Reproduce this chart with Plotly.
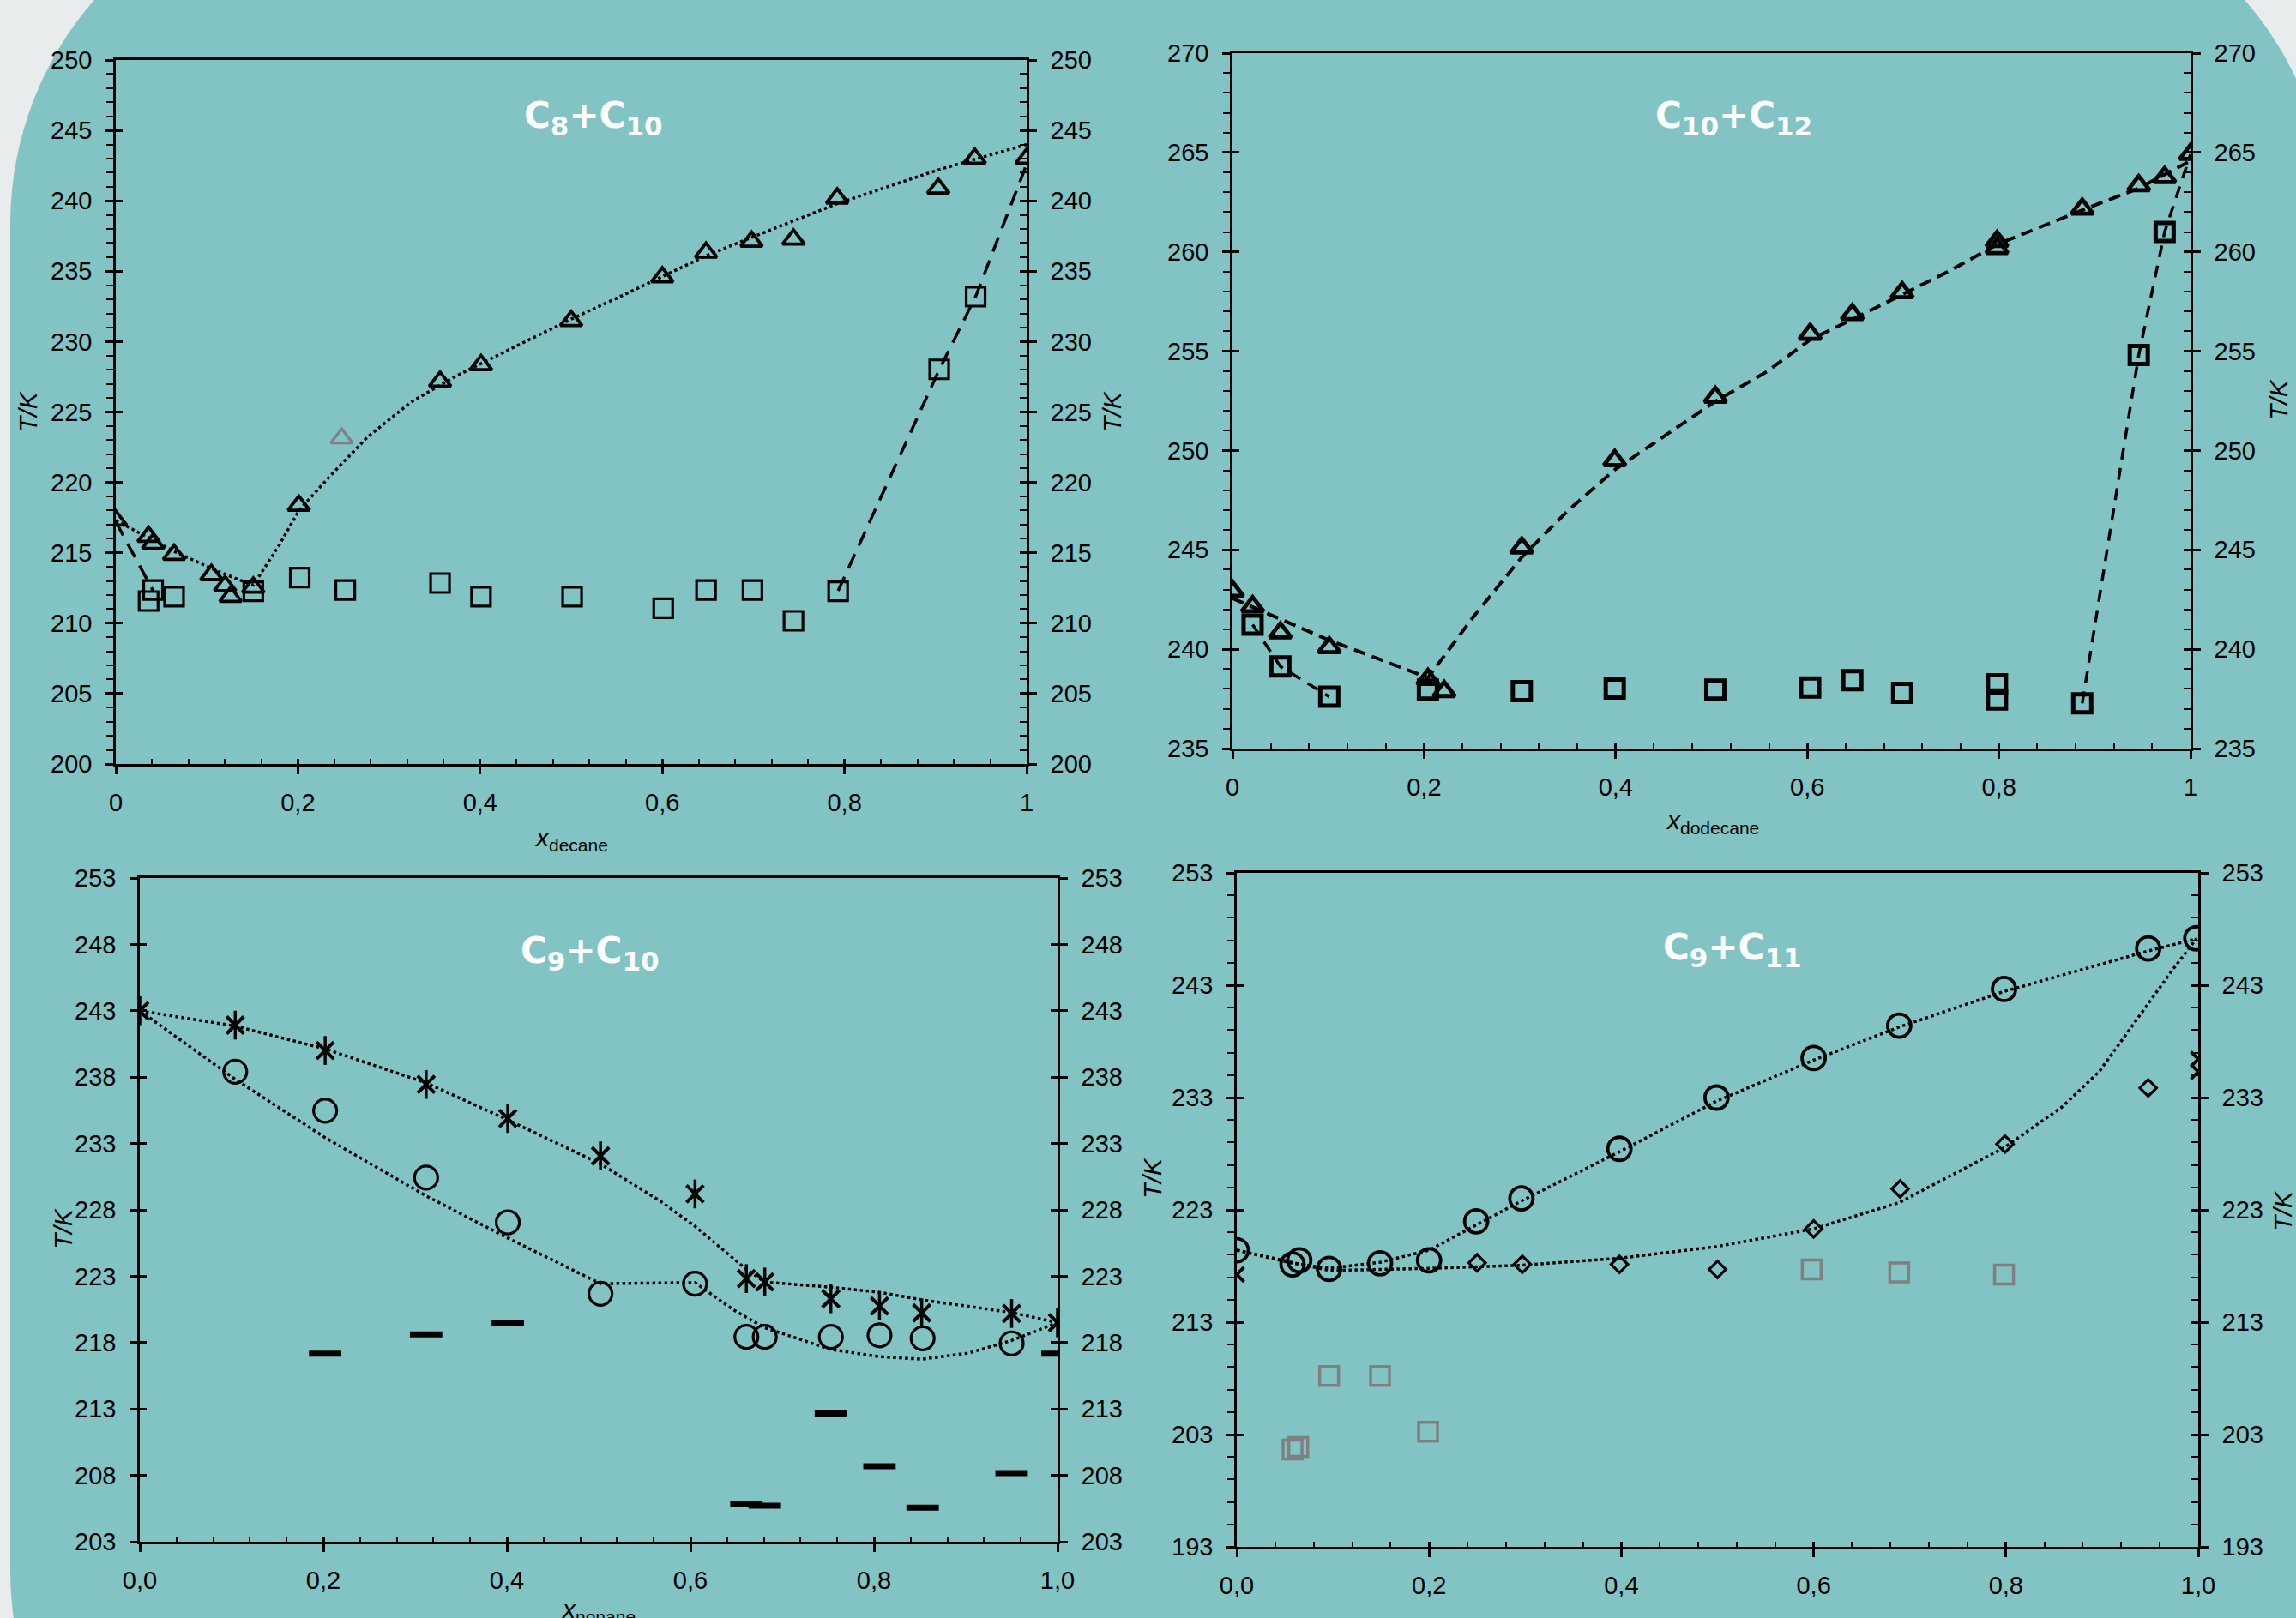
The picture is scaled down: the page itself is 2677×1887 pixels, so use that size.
import plotly.graph_objects as go

W, H = 2677, 1887
TEAL = "#82C3C4"
GRAYBG = "#E8ECEC"
GRAYMK = "#808080"
FONT = "Liberation Sans, Arial, sans-serif"
TFONT = "DejaVu Sans, sans-serif"

# ---------------- Panel 1: C8 + C10 (x_decane) ----------------
p1_liq_x = [0.0, 0.036, 0.041, 0.064, 0.105, 0.120, 0.126, 0.151, 0.201, 0.356, 0.401,
            0.500, 0.600, 0.648, 0.698, 0.744, 0.792, 0.903, 0.943, 1.0]
p1_liq_T = [217.3, 216.15, 215.65, 214.87, 213.43, 212.65, 211.88, 212.54, 218.36, 227.17, 228.34,
            231.48, 234.59, 236.34, 237.11, 237.27, 240.18, 240.88, 243.01, 243.01]
p1_out_x = [0.248]
p1_out_T = [223.14]
p1_sol_x = [0.036, 0.041, 0.064, 0.151, 0.202, 0.252, 0.356, 0.401, 0.501, 0.601, 0.648,
            0.699, 0.744, 0.793, 0.904, 0.944]
p1_sol_T = [211.57, 212.35, 211.88, 212.27, 213.24, 212.35, 212.85, 211.88, 211.88, 211.06, 212.35,
            212.35, 210.17, 212.27, 228.03, 233.19]
p1_fit_x = [0.0, 0.064, 0.115, 0.151, 0.179, 0.201, 0.236, 0.276, 0.324, 0.372, 0.437, 0.5,
            0.557, 0.6, 0.648, 0.698, 0.792, 0.903, 1.0]
p1_fit_T = [217.3, 215.1, 213.6, 212.7, 215.5, 218.0, 220.5, 223.2, 225.7, 227.5, 229.6, 231.6,
            233.3, 234.6, 236.1, 237.4, 239.8, 242.2, 244.0]
p1_dash_x = [0.0, 0.041, None, 0.793, 0.904, 0.944, 1.0]
p1_dash_T = [217.2, 212.3, None, 212.3, 228.0, 233.2, 242.6]

# ---------------- Panel 2: C10 + C12 (x_dodecane) ----------------
p2_liq_x = [0.0, 0.021, 0.05, 0.101, 0.204, 0.221, 0.302, 0.399, 0.504, 0.603, 0.647, 0.699,
            0.798, 0.798, 0.887, 0.946, 0.973, 1.0]
p2_liq_T = [242.92, 242.15, 240.83, 240.09, 238.49, 237.88, 245.1, 249.5, 252.69, 255.86, 256.85,
            257.95, 260.53, 260.18, 262.16, 263.34, 263.75, 264.91]
p2_sol_x = [0.021, 0.05, 0.101, 0.204, 0.302, 0.399, 0.504, 0.603, 0.647, 0.699, 0.798, 0.798,
            0.887, 0.946, 0.973]
p2_sol_T = [241.24, 239.13, 237.61, 237.97, 237.89, 238.02, 237.97, 238.08, 238.44, 237.8, 238.24,
            237.47, 237.28, 254.81, 261.0]
p2_fit_x = [0.0, 0.101, 0.204, 0.251, 0.302, 0.35, 0.399, 0.45, 0.504, 0.558, 0.603, 0.647,
            0.699, 0.75, 0.798, 0.887, 0.946, 1.0]
p2_fit_T = [242.56, 240.45, 238.57, 241.6, 244.63, 246.97, 249.03, 250.68, 252.47, 253.98, 255.58,
            256.6, 257.84, 259.08, 260.37, 262.1, 263.2, 264.58]
p2_dash_x = [0.021, 0.05, 0.101, None, 0.887, 0.946, 0.973, 1.0]
p2_dash_T = [241.24, 239.13, 237.61, None, 237.28, 254.81, 261.0, 264.9]

# ---------------- Panel 3: C9 + C10 (x_nonane) ----------------
p3_star_x = [0.0, 0.104, 0.202, 0.312, 0.401, 0.502, 0.605, 0.661, 0.681, 0.753, 0.806, 0.852,
             0.95, 1.0]
p3_star_T = [243.0, 241.92, 240.01, 237.45, 234.89, 232.07, 229.2, 222.82, 222.56, 221.3, 220.76,
             220.23, 220.19, 219.5]
p3_circ_x = [0.104, 0.202, 0.312, 0.401, 0.502, 0.605, 0.661, 0.681, 0.753, 0.806, 0.853, 0.95]
p3_circ_T = [238.41, 235.47, 230.43, 227.06, 221.68, 222.44, 218.43, 218.43, 218.43, 218.55,
             218.32, 217.94]
p3_bar_x = [0.202, 0.312, 0.401, 0.661, 0.681, 0.753, 0.806, 0.853, 0.95, 1.0]
p3_bar_T = [217.17, 218.62, 219.5, 205.87, 205.71, 212.66, 208.69, 205.56, 208.16, 217.17]
p3_up_x = [0.0, 0.104, 0.202, 0.312, 0.401, 0.502, 0.567, 0.605, 0.661, 0.681, 0.753, 0.806,
           0.852, 0.95, 1.0]
p3_up_T = [243.0, 241.85, 240.13, 237.57, 234.78, 231.46, 228.67, 226.76, 223.51, 222.56, 222.17,
           221.79, 221.22, 220.27, 219.5]
p3_lo_x = [0.0, 0.104, 0.202, 0.312, 0.401, 0.502, 0.605, 0.647, 0.681, 0.753, 0.806, 0.852,
           0.903, 0.95, 1.0]
p3_lo_T = [243.0, 237.84, 233.44, 229.05, 225.88, 222.44, 222.52, 220.46, 219.12, 217.48, 216.94,
           216.75, 217.21, 218.16, 219.5]

# ---------------- Panel 4: C9 + C11 ----------------
p4_circ_x = [0.0, 0.058, 0.065, 0.096, 0.149, 0.2, 0.249, 0.296, 0.398, 0.499, 0.6, 0.689,
             0.798, 0.948, 0.998]
p4_circ_T = [219.41, 218.15, 218.51, 217.74, 218.24, 218.51, 221.98, 224.02, 228.44, 233.0,
             236.52, 239.41, 242.66, 246.27, 247.18]
p4_dia_x = [0.25, 0.297, 0.398, 0.5, 0.6, 0.69, 0.799, 0.948]
p4_dia_T = [218.28, 218.15, 218.15, 217.7, 221.31, 224.87, 228.85, 233.86]
p4_x_x = [0.0, 1.0, 1.0]
p4_x_T = [217.24, 236.43, 235.3]
p4_sq_x = [0.058, 0.064, 0.096, 0.149, 0.199, 0.598, 0.689, 0.798]
p4_sq_T = [201.67, 201.9, 208.21, 208.21, 203.25, 217.7, 217.42, 217.24]
p4_up_x = [0.0, 0.058, 0.096, 0.149, 0.2, 0.249, 0.296, 0.398, 0.499, 0.6, 0.689, 0.798, 0.948, 0.998]
p4_up_T = [219.41, 218.24, 217.79, 218.33, 219.41, 221.67, 223.79, 228.17, 232.68, 236.34,
           239.28, 242.44, 246.05, 247.13]
p4_lo_x = [0.0, 0.096, 0.2, 0.296, 0.398, 0.499, 0.6, 0.689, 0.798, 0.858, 0.897, 0.935, 0.973, 0.998]
p4_lo_T = [219.41, 217.6, 217.79, 218.06, 218.69, 219.73, 221.31, 223.65, 228.53, 232.14, 235.3,
           239.82, 244.33, 247.13]

# ---------------- layout helpers ----------------
panels = [
    dict(px=(135, 1197), py=(70, 891), yr=(200, 250), dt=5, mn=1, fmt=None, lminor=True),
    dict(px=(1437, 2554), py=(62, 873), yr=(235, 270), dt=5, mn=1, fmt=None, lminor=True),
    dict(px=(163, 1233), py=(1024, 1798), yr=(203, 253), dt=5, mn=None, fmt=".1f", lminor=False),
    dict(px=(1442, 2563), py=(1018, 1804), yr=(193, 253), dt=10, mn=2, fmt=".1f", lminor=True),
]

fig = go.Figure()
layout = {}
tickfont = dict(family=FONT, size=29, color="black")
LW = 2.5


def ax_ids(k):
    return 2 * k + 1, 2 * k + 2, 4 * k + 1


def nm(prefix, i):
    return prefix if i == 1 else f"{prefix}{i}"


for k, p in enumerate(panels):
    xi, xj, ya = ax_ids(k)
    xdom = [p["px"][0] / W, p["px"][1] / W]
    ydom = [1 - p["py"][1] / H, 1 - p["py"][0] / H]
    xr = [0, 1]
    yr = list(p["yr"])
    xa = dict(domain=xdom, anchor=nm("y", ya), range=xr, tick0=0, dtick=0.2, ticks="outside",
              ticklen=9, tickwidth=LW, tickcolor="black", showline=True, linewidth=LW,
              linecolor="black", mirror=True, showgrid=False, zeroline=False, tickfont=tickfont,
              ticklabelstandoff=8, automargin=False)
    if p["fmt"]:
        xa["tickformat"] = p["fmt"]
    layout[nm("xaxis", xi)] = xa
    layout[nm("xaxis", xj)] = dict(overlaying=nm("x", xi), anchor=nm("y", ya), range=xr, tick0=0,
                                   dtick=0.2, ticks="inside", ticklen=6, tickwidth=LW,
                                   tickcolor="black", side="bottom", automargin=False,
                                   minor=dict(tick0=0, dtick=0.04, ticks="inside", ticklen=6,
                                              tickwidth=2, tickcolor="black"),
                                   showticklabels=False, showline=False, showgrid=False,
                                   zeroline=False)
    yl = dict(domain=ydom, anchor=nm("x", xi), range=yr, tick0=yr[0], dtick=p["dt"],
              ticks="outside", ticklen=9, tickwidth=LW, tickcolor="black", showline=True,
              linewidth=LW, linecolor="black", showgrid=False, zeroline=False, tickfont=tickfont,
              ticklabelstandoff=10, automargin=False)
    if p["mn"] and p["lminor"]:
        yl["minor"] = dict(tick0=yr[0], dtick=p["mn"], ticks="outside", ticklen=8, tickwidth=2,
                           tickcolor="black")
    layout[nm("yaxis", ya)] = yl
    layout[nm("yaxis", ya + 1)] = dict(overlaying=nm("y", ya), anchor=nm("x", xi), side="right",
                                       range=yr, tick0=yr[0], dtick=p["dt"], ticks="outside",
                                       ticklen=9, tickwidth=LW, tickcolor="black", showline=True,
                                       linewidth=LW, linecolor="black", showgrid=False,
                                       zeroline=False, tickfont=tickfont, ticklabelstandoff=10,
                                       automargin=False)
    layout[nm("yaxis", ya + 2)] = dict(overlaying=nm("y", ya), anchor=nm("x", xi), side="left",
                                       range=yr, tick0=yr[0], dtick=p["dt"], ticks="inside",
                                       ticklen=8, tickwidth=LW, tickcolor="black",
                                       showticklabels=False, showline=False, showgrid=False,
                                       zeroline=False, automargin=False)
    yd = dict(overlaying=nm("y", ya), anchor=nm("x", xi), side="right", range=yr, tick0=yr[0],
              dtick=p["dt"], ticks="inside", ticklen=8, tickwidth=LW, tickcolor="black",
              showticklabels=False, showline=False, showgrid=False, zeroline=False,
              automargin=False)
    if p["mn"]:
        yd["minor"] = dict(tick0=yr[0], dtick=p["mn"], ticks="inside", ticklen=8, tickwidth=2,
                           tickcolor="black")
    layout[nm("yaxis", ya + 3)] = yd
    for (xx, yy) in [(xj, ya), (xi, ya + 1), (xi, ya + 2), (xi, ya + 3)]:
        fig.add_trace(go.Scatter(x=[None], y=[None], xaxis=nm("x", xx), yaxis=nm("y", yy),
                                 mode="markers", showlegend=False, hoverinfo="skip"))


def axes(k):
    xi, xj, ya = ax_ids(k)
    return dict(xaxis=nm("x", xi), yaxis=nm("y", ya))


def line(k, x, y, dash, width=3.5):
    fig.add_trace(go.Scatter(x=x, y=y, mode="lines", line=dict(color="black", width=width, dash=dash),
                             showlegend=False, hoverinfo="skip", connectgaps=False, **axes(k)))


def mark(k, x, y, symbol, size, lw, color="black"):
    fig.add_trace(go.Scatter(x=x, y=y, mode="markers",
                             marker=dict(symbol=symbol, size=size, color=color,
                                         line=dict(color=color, width=lw)),
                             showlegend=False, **axes(k)))


# Panel 1
line(0, p1_fit_x, p1_fit_T, "dot", 3.5)
line(0, p1_dash_x, p1_dash_T, "18px,11px", 3.5)
mark(0, p1_sol_x, p1_sol_T, "square-open", 22, 3.2)
mark(0, p1_liq_x, p1_liq_T, "triangle-up-open", 22, 3.8)
mark(0, p1_out_x, p1_out_T, "triangle-up-open", 22, 3.2, GRAYMK)

# Panel 2
line(1, p2_fit_x, p2_fit_T, "14px,8px", 4)
line(1, p2_dash_x, p2_dash_T, "14px,10px", 3.5)
mark(1, p2_sol_x, p2_sol_T, "square-open", 21, 5)
mark(1, p2_liq_x, p2_liq_T, "triangle-up-open", 22, 4.8)

# Panel 3
line(2, p3_up_x, p3_up_T, "dot", 3.5)
line(2, p3_lo_x, p3_lo_T, "dot", 3.5)
mark(2, p3_circ_x, p3_circ_T, "circle-open", 27, 3.2)
mark(2, p3_star_x, p3_star_T, "x-thin-open", 20, 4)
mark(2, p3_star_x, p3_star_T, "line-ns-open", 24, 3.5)
mark(2, p3_bar_x, p3_bar_T, "line-ew-open", 27, 7)

# Panel 4
line(3, p4_up_x, p4_up_T, "dot", 3.5)
line(3, p4_lo_x, p4_lo_T, "dot", 3.5)
mark(3, p4_sq_x, p4_sq_T, "square-open", 22, 3.5, GRAYMK)
mark(3, p4_circ_x, p4_circ_T, "circle-open", 27, 3.8)
mark(3, p4_dia_x, p4_dia_T, "diamond-open", 15, 3.2)
mark(3, p4_x_x, p4_x_T, "x-thin-open", 17, 3.8)

# ---------------- background rounded panel ----------------
L, R, T, B, r = 12, 2715, -138, 2231, 400
kk = 0.5523 * r


def P(x, y):
    return f"{x / W:.5f},{1 - y / H:.5f}"


path = (f"M{P(L, T + r)} C{P(L, T + r - kk)} {P(L + r - kk, T)} {P(L + r, T)} "
        f"L{P(R - r, T)} C{P(R - r + kk, T)} {P(R, T + r - kk)} {P(R, T + r)} "
        f"L{P(R, B - r)} C{P(R, B - r + kk)} {P(R - r + kk, B)} {P(R - r, B)} "
        f"L{P(L + r, B)} C{P(L + r - kk, B)} {P(L, B - r + kk)} {P(L, B - r)} Z")

shapes = [dict(type="path", xref="paper", yref="paper", path=path, fillcolor=TEAL,
               line=dict(width=0), layer="below")]

# ---------------- annotations ----------------
ann = []


def txt(x, y, s, size=30, angle=0, color="black", family=FONT):
    ann.append(dict(x=x / W, y=1 - y / H, xref="paper", yref="paper", text=s, showarrow=False,
                    textangle=angle, xanchor="center", yanchor="middle",
                    font=dict(family=family, size=size, color=color)))


TK = "<i>T/K</i>"
txt(33, 480, TK, 30, -90)
txt(1297, 480, TK, 30, -90)
txt(2657, 466, TK, 30, -90)
txt(73, 1433, TK, 30, -90)
txt(1343, 1374, TK, 30, -90)
txt(2661, 1412, TK, 30, -90)
txt(666, 978, "<i>x</i><sub>decane</sub>", 30)
txt(1996, 959, "<i>x</i><sub>dodecane</sub>", 30)
txt(697, 1878, "<i>x</i><sub>nonane</sub>", 30)
txt(2002, 1898, "<i>x</i><sub>undecane</sub>", 30)


def title(x, y, a, b):
    s = (f"<b>C<sub><span style='font-size:31px'>{a}</span></sub>+C"
         f"<sub><span style='font-size:31px'>{b}</span></sub></b>")
    txt(x, y, s, 42, 0, "white", TFONT)


title(692, 137, "8", "10")
title(2021, 137, "10", "12")
title(688, 1111, "9", "10")
title(2020, 1107, "9", "11")

layout.update(dict(width=W, height=H,
                   margin=dict(l=0, r=0, t=0, b=0, pad=0, autoexpand=False),
                   paper_bgcolor=GRAYBG, plot_bgcolor="rgba(0,0,0,0)", separators=", ",
                   showlegend=False, shapes=shapes, annotations=ann))
fig.update_layout(**layout)
fig.write_html("out.html", config={"displayModeBar": False},
               post_script="document.body.style.margin='0';"
                           "document.documentElement.style.overflow='hidden';"
                           "document.body.style.overflow='hidden';")
